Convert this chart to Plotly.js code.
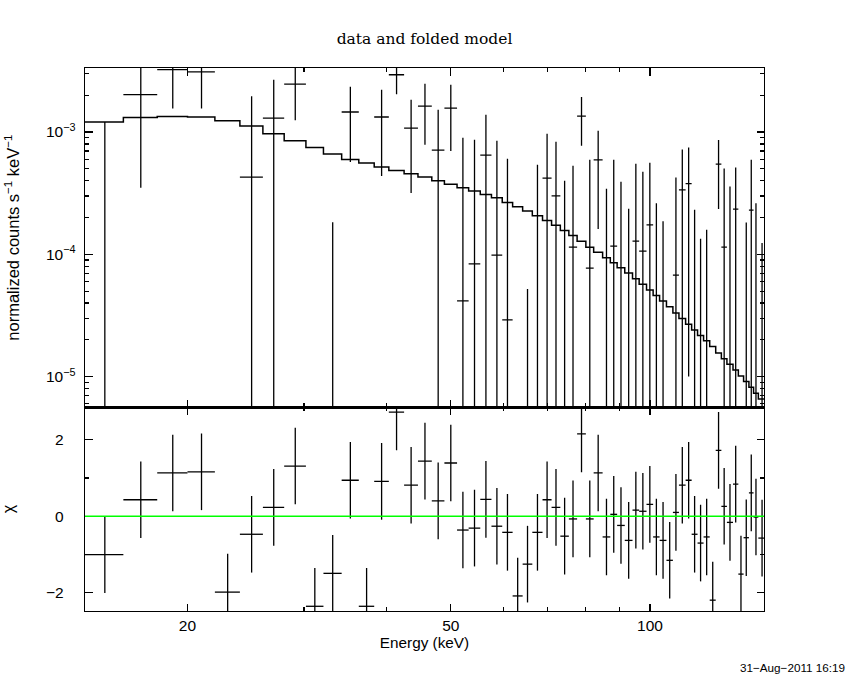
<!DOCTYPE html>
<html>
<head>
<meta charset="utf-8">
<script src="https://cdn.plot.ly/plotly-3.0.1.min.js"></script>
<style>html,body{margin:0;padding:0;background:#fff;}#chart{width:850px;height:680px;}</style>
</head>
<body>
<div id="chart"></div>
<script>
// Energy bin edges (keV)
const edges = [14, 16, 18, 20, 22, 24, 26, 28, 30.2, 32.1, 34.2, 36.3, 38.3, 40.3, 42.5, 44.6, 46.8, 48.9, 51.1, 53.2,
  55.4, 57.6, 59.8, 62.0, 64.2, 66.4, 68.8, 71.0, 73.2, 75.4, 77.6, 80.0, 82.2, 84.8, 87.1, 89.2, 91.6, 94.1, 96.3, 98.8,
  101.1, 103.4, 105.9, 108.3, 110.6, 113.2, 115.6, 118.0, 120.5, 123.1, 125.7, 128.2, 130.7, 133.5, 136.0, 138.5, 141.1, 143.4, 145.8, 149.6];

// Folded model (normalized counts s^-1 keV^-1)
const model = [1.207e-3, 1.316e-3, 1.342e-3, 1.327e-3, 1.237e-3, 1.120e-3, 9.68e-4, 8.49e-4, 7.48e-4, 6.61e-4,
  5.97e-4, 5.58e-4, 5.17e-4, 4.85e-4, 4.56e-4, 4.28e-4, 3.99e-4, 3.75e-4, 3.50e-4, 3.29e-4,
  3.09e-4, 2.90e-4, 2.65e-4, 2.45e-4, 2.26e-4, 2.07e-4, 1.89e-4, 1.73e-4, 1.566e-4, 1.425e-4,
  1.282e-4, 1.145e-4, 1.042e-4, 9.36e-5, 8.52e-5, 7.75e-5, 7.02e-5, 6.30e-5, 5.70e-5, 5.12e-5,
  4.60e-5, 4.16e-5, 3.72e-5, 3.32e-5, 2.98e-5, 2.68e-5, 2.41e-5, 2.17e-5, 1.96e-5, 1.76e-5,
  1.56e-5, 1.40e-5, 1.26e-5, 1.13e-5, 1.01e-5, 9.10e-6, 8.19e-6, 7.31e-6, 6.57e-6];

// Data rate and 1-sigma error
const rate = [0, 2.02e-3, 3.24e-3, 3.10e-3, -1.53e-3, 4.28e-4, 1.30e-3, 2.47e-3, -1.60e-3, -7.9e-4,
  1.458e-3, -1.56e-3, 1.327e-3, 2.94e-3, 1.078e-3, 1.632e-3, 7.12e-4, 1.571e-3, 4.16e-5, 8.36e-5,
  6.48e-4, 9.85e-5, 2.91e-5, -1.21e-3, -6.43e-4, -3.4e-5, 4.2e-4, 3.01e-4, -1.06e-4, 1.146e-4,
  1.352e-3, 7.71e-5, 5.93e-4, -2.0e-4, 1.167e-4, -2.2e-5, -2.12e-4, 1.28e-4, 1.062e-4, 1.743e-4,
  -2.08e-4, -2.0e-4, -3.65e-4, 6.76e-5, 3.37e-4, 3.78e-4, -1.59e-4, -2.4e-4, -1.43e-4, -6.4e-4,
  5.47e-4, 1.146e-4, -5.3e-5, 2.34e-4, -4.43e-4, -2.11e-4, 2.3e-4, 2.1e-6, -1.485e-4];
const rateErr = [1.21e-3, 1.67e-3, 1.68e-3, 1.54e-3, 1.40e-3, 1.53e-3, 1.38e-3, 1.22e-3, 1.0e-3, 9.73e-4,
  8.9e-4, 9.0e-4, 8.9e-4, 9.0e-4, 7.6e-4, 8.45e-4, 8.1e-4, 8.7e-4, 8.56e-4, 7.8e-4,
  7.37e-4, 7.5e-4, 5.76e-4, 7.0e-4, 6.95e-4, 5.74e-4, 5.48e-4, 5.32e-4, 5.05e-4, 4.15e-4,
  5.8e-4, 5.16e-4, 4.32e-4, 5.44e-4, 4.76e-4, 4.14e-4, 4.48e-4, 4.22e-4, 3.67e-4, 3.87e-4,
  4.7e-4, 3.86e-4, 3.5e-4, 3.57e-4, 3.83e-4, 3.68e-4, 3.9e-4, 3.74e-4, 3.02e-4, 3.0e-4,
  3.12e-4, 3.89e-4, 4.12e-4, 2.79e-4, 3.0e-4, 3.93e-4, 3.63e-4, 2.6e-4, 2.72e-4];

// Residuals (chi)
const chi = [-1.0, 0.43, 1.13, 1.16, -1.98, -0.47, 0.23, 1.31, -2.35, -1.49,
  0.94, -2.35, 0.91, 2.72, 0.81, 1.44, 0.40, 1.39, -0.36, -0.31,
  0.44, -0.26, -0.42, -2.08, -1.25, -0.42, 0.43, 0.23, -0.52, -0.07,
  2.15, -0.07, 1.13, -0.54, 0.05, -0.24, -0.63, 0.16, 0.13, 0.31,
  -0.54, -0.63, -1.15, 0.10, 0.81, 0.94, -0.47, -0.70, -0.54, -2.19,
  1.72, 0.26, -0.16, 0.84, -1.51, -0.56, 0.61, -0.02, -0.57];

// Tick labels
const xTicks = [20, 50, 100];
const xTickText = ['20', '50', '100'];
const xMinor = [30, 40, 60, 70, 80, 90];
const yTicks = [1e-5, 1e-4, 1e-3];
const yTickText = ['10<sup>\u22125</sup>', '10<sup>\u22124</sup>', '10<sup>\u22123</sup>'];
const yMinor = [6e-6, 7e-6, 8e-6, 9e-6, 2e-5, 3e-5, 4e-5, 5e-5, 6e-5, 7e-5, 8e-5, 9e-5,
  2e-4, 3e-4, 4e-4, 5e-4, 6e-4, 7e-4, 8e-4, 9e-4, 2e-3, 3e-3];
const chiTicks = [-2, 0, 2];
const chiTickText = ['\u22122', '0', '2'];
const chiMinor = [-1, 1];

// Build cross segments
const FLOOR = 1e-9;
const dx = [], dy = [], rx = [], ry = [];
for (let i = 0; i < rate.length; i++) {
  const lo = edges[i], hi = edges[i + 1], c = (lo + hi) / 2;
  const v = rate[i], e = rateErr[i];
  if (v > 0) { dx.push(lo, hi, null); dy.push(v, v, null); }
  const top = v + e;
  if (top > 0) { dx.push(c, c, null); dy.push(Math.max(v - e, FLOOR), top, null); }
  rx.push(lo, hi, null); ry.push(chi[i], chi[i], null);
  rx.push(c, c, null); ry.push(chi[i] - 1, chi[i] + 1, null);
}
const mx = edges.slice();
const my = model.concat([model[model.length - 1]]);

const traces = [
  {x: dx, y: dy, xaxis: 'x', yaxis: 'y', mode: 'lines', line: {color: '#000', width: 1.3}, hoverinfo: 'skip'},
  {x: mx, y: my, xaxis: 'x', yaxis: 'y', mode: 'lines', line: {color: '#000', width: 1.5, shape: 'hv'}, hoverinfo: 'skip'},
  {x: rx, y: ry, xaxis: 'x2', yaxis: 'y2', mode: 'lines', line: {color: '#000', width: 1.3}, hoverinfo: 'skip'}
];

const SANS = 'Liberation Sans, Arial, sans-serif';
const xRange = [Math.log10(14.0), Math.log10(148.7)];
const tickFont = {family: SANS, size: 15.5, color: '#000'};
const baseX = {
  type: 'log', range: xRange, showgrid: false, zeroline: false,
  showline: true, linecolor: '#000', linewidth: 1.3, mirror: 'allticks',
  ticks: 'inside', ticklen: 7.5, tickwidth: 1.2, tickcolor: '#000',
  tickmode: 'array', tickvals: xTicks, ticktext: xTickText,
  minor: {tickmode: 'array', tickvals: xMinor, ticks: 'inside', ticklen: 3.8, tickwidth: 1.2, tickcolor: '#000', showgrid: false},
  tickfont: tickFont
};
const split = 0.3753;
const layout = {
  width: 850, height: 680,
  margin: {l: 85, r: 85.7, t: 68.3, b: 69},
  paper_bgcolor: '#fff', plot_bgcolor: '#fff',
  showlegend: false,
  title: {text: 'data and folded model', x: 0.5, xref: 'paper', y: 1 - 39 / 680, yref: 'container', yanchor: 'middle',
    font: {family: 'DejaVu Serif, serif', size: 15.5, color: '#000'}},
  xaxis: Object.assign({}, baseX, {anchor: 'y', domain: [0, 1], showticklabels: false}),
  xaxis2: Object.assign({}, baseX, {anchor: 'y2', domain: [0, 1], showticklabels: true, ticklabelstandoff: 0,
    title: {text: 'Energy (keV)', font: {family: SANS, size: 15.3, color: '#000'}, standoff: 3}}),
  yaxis: {
    type: 'log', domain: [split, 1], anchor: 'x', range: [Math.log10(5.62e-6), Math.log10(3.34e-3)],
    showgrid: false, zeroline: false, showline: true, linecolor: '#000', linewidth: 1.3, mirror: 'allticks',
    ticks: 'inside', ticklen: 7.5, tickwidth: 1.2, tickcolor: '#000',
    tickmode: 'array', tickvals: yTicks, ticktext: yTickText, ticklabelstandoff: 5,
    minor: {tickmode: 'array', tickvals: yMinor, ticks: 'inside', ticklen: 3.8, tickwidth: 1.2, tickcolor: '#000', showgrid: false},
    tickfont: tickFont,
    title: {text: 'normalized counts s<sup>\u22121</sup> keV<sup>\u22121</sup>', font: {family: SANS, size: 16.5, color: '#000'}, standoff: 22}
  },
  yaxis2: {
    domain: [0, split], anchor: 'x2', range: [-2.473, 2.846],
    showgrid: false, zeroline: false, showline: true, linecolor: '#000', linewidth: 1.3, mirror: 'allticks',
    ticks: 'inside', ticklen: 7.5, tickwidth: 1.2, tickcolor: '#000',
    tickmode: 'array', tickvals: chiTicks, ticktext: chiTickText, ticklabelstandoff: 17,
    minor: {tickmode: 'array', tickvals: chiMinor, ticks: 'inside', ticklen: 3.8, tickwidth: 1.2, tickcolor: '#000', showgrid: false},
    tickfont: tickFont,
    title: {text: '\u03c7', font: {family: SANS, size: 16, color: '#000'}, standoff: 32}
  },
  shapes: [
    {type: 'line', xref: 'x2 domain', yref: 'y2', x0: 0, x1: 1, y0: 0, y1: 0, line: {color: '#00ff00', width: 1.3}}
  ],
  annotations: [
    {text: '31\u2212Aug\u22122011 16:19', xref: 'paper', yref: 'paper', x: (847 - 85) / 679.3, y: (611 - 667) / 542.7,
      xanchor: 'right', yanchor: 'middle', showarrow: false,
      font: {family: SANS, size: 11.7, color: '#000'}}
  ]
};
Plotly.newPlot('chart', traces, layout, {staticPlot: true, displayModeBar: false});
</script>
</body>
</html>
